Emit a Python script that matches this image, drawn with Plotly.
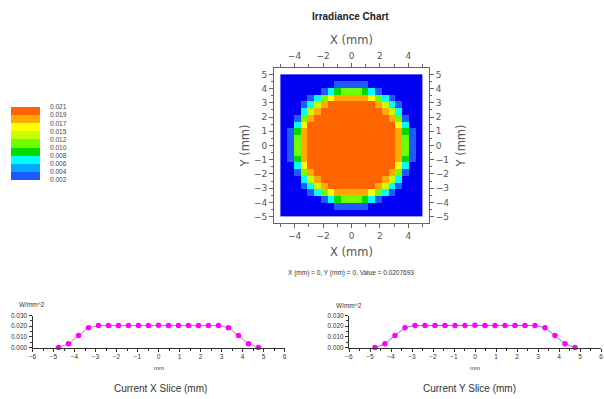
import plotly.graph_objects as go

# ---------------- data ----------------
CELL_CENTERS = [-4.762, -4.286, -3.810, -3.333, -2.857, -2.381, -1.905, -1.429, -0.952, -0.476, 0.0,
                0.476, 0.952, 1.429, 1.905, 2.381, 2.857, 3.333, 3.810, 4.286, 4.762]

# representative irradiance (W/mm^2) of each colour level
LEVEL_VALUES = [0.0005, 0.0031, 0.0052, 0.0073, 0.0094, 0.0114, 0.0135, 0.0156, 0.0177, 0.0207]
LEVEL_COLORS = ["#0000F5", "#1E5AFF", "#00A8FF", "#00FFFF", "#00DC00",
                "#70FF00", "#C8FF00", "#FFFF00", "#FFAA00", "#FF6400"]
LEGEND_LABELS = ["0.002", "0.004", "0.006", "0.008", "0.010", "0.012",
                 "0.015", "0.017", "0.019", "0.021"]

# colour level of every map cell (row 0 = Y -4.762 ... row 20 = Y +4.762)
GRID_LEVELS = [
    "000000000000000000000",
    "000000001111100000000",
    "000000134555431000000",
    "000013578888875310000",
    "000136899999998631000",
    "000368999999999863000",
    "001589999999999985100",
    "003799999999999997300",
    "014899999999999998410",
    "015899999999999998510",
    "015899999999999998510",
    "015899999999999998510",
    "014899999999999998410",
    "003799999999999997300",
    "001589999999999985100",
    "000368999999999863000",
    "000136899999998631000",
    "000013578888875310000",
    "000000134555431000000",
    "000000001111100000000",
    "000000000000000000000",
]

SLICE_X = CELL_CENTERS
X_SLICE_VALUES = [0.0, 0.0035, 0.0113, 0.0186, 0.0206, 0.0207, 0.0207, 0.0207, 0.0207, 0.0207, 0.0208,
                  0.0207, 0.0207, 0.0207, 0.0207, 0.0207, 0.0206, 0.0186, 0.0113, 0.0035, 0.0]
Y_SLICE_VALUES = [0.0, 0.0035, 0.0113, 0.0186, 0.0206, 0.0207, 0.0207, 0.0207, 0.0207, 0.0207, 0.0208,
                  0.0207, 0.0207, 0.0207, 0.0207, 0.0207, 0.0206, 0.0186, 0.0113, 0.0035, 0.0]

W, H = 604, 399


def px(x):
    return x / W


def py(y):
    return 1 - y / H


z = [[LEVEL_VALUES[int(ch)] for ch in row] for row in GRID_LEVELS]
ZMAX = 0.0208
colorscale = []
for k, c in enumerate(LEVEL_COLORS):
    colorscale.append([k / 10, c])
    colorscale.append([(k + 1) / 10, c])

fig = go.Figure()

# main irradiance map
fig.add_trace(go.Heatmap(x=CELL_CENTERS, y=CELL_CENTERS, z=z, zmin=0, zmax=ZMAX,
                         colorscale=colorscale, showscale=False, xaxis="x", yaxis="y",
                         hoverinfo="skip"))
# invisible trace to carry the top / right mirror axes
fig.add_trace(go.Scatter(x=[-5, 5], y=[-5, 5], mode="markers", marker=dict(opacity=0),
                         xaxis="x2", yaxis="y2", showlegend=False, hoverinfo="skip"))

# legend bar
fig.add_trace(go.Heatmap(x=[0], y=[k + 0.5 for k in range(9)],
                         z=[[LEVEL_VALUES[k + 1]] for k in range(9)], zmin=0, zmax=ZMAX,
                         colorscale=colorscale, showscale=False, xaxis="x3", yaxis="y3",
                         hoverinfo="skip"))

# slices
fig.add_trace(go.Scatter(x=SLICE_X, y=X_SLICE_VALUES, mode="lines+markers",
                         line=dict(color="#C88080", width=1),
                         marker=dict(color="#FF00FF", size=5.5), cliponaxis=False,
                         xaxis="x4", yaxis="y4", showlegend=False))
fig.add_trace(go.Scatter(x=SLICE_X, y=Y_SLICE_VALUES, mode="lines+markers",
                         line=dict(color="#7878C8", width=1),
                         marker=dict(color="#FF00FF", size=5.5), cliponaxis=False,
                         xaxis="x5", yaxis="y5", showlegend=False))

AX_FONT = dict(family="DejaVu Sans", size=9, color="#555555")
TITLE_FONT = dict(family="DejaVu Sans", size=11.5, color="#555555")
SMALL = dict(family="Liberation Sans", size=6.5, color="#333333")

map_x = [px(274), px(429)]
map_y = [py(223), py(68)]
RNG = [-5.45, 5.45]

common_map = dict(range=RNG, showgrid=False, zeroline=False, showline=True, linecolor="#666666",
                  linewidth=1, ticks="outside", ticklen=4, tickcolor="#666666", tickfont=AX_FONT,
                  automargin=False)

fig.update_layout(
    width=W, height=H, margin=dict(l=0, r=0, t=0, b=0),
    paper_bgcolor="white", plot_bgcolor="white", showlegend=False,
    xaxis=dict(domain=map_x, anchor="y", side="bottom", dtick=2, tick0=0,
               minor=dict(dtick=1, ticklen=3, tickcolor="#666666", ticks="outside"),
               title=dict(text="X (mm)", font=TITLE_FONT, standoff=8), **common_map),
    yaxis=dict(domain=map_y, anchor="x", side="left", dtick=1, tick0=0,
               minor=dict(dtick=0.5, ticklen=2, tickcolor="#666666", ticks="outside"),
               title=dict(text="Y (mm)", font=TITLE_FONT, standoff=1), **common_map),
    xaxis2=dict(overlaying="x", anchor="y", side="top", dtick=2, tick0=0,
                minor=dict(dtick=1, ticklen=3, tickcolor="#666666", ticks="outside"),
                title=dict(text="X (mm)", font=TITLE_FONT, standoff=4), **common_map),
    yaxis2=dict(overlaying="y", anchor="x", side="right", dtick=1, tick0=0,
                minor=dict(dtick=0.5, ticklen=2, tickcolor="#666666", ticks="outside"),
                title=dict(text="Y (mm)", font=TITLE_FONT, standoff=8), **common_map),
    xaxis3=dict(domain=[px(11), px(40)], anchor="y3", visible=False, range=[-0.5, 0.5]),
    yaxis3=dict(domain=[py(180), py(107)], anchor="x3", side="right", range=[0, 9],
                tickvals=list(range(10)), ticktext=LEGEND_LABELS, ticks="",
                showline=False, showgrid=False, zeroline=False, ticklabelstandoff=9,
                tickfont=dict(family="Liberation Sans", size=6.5, color="#444444"),
                automargin=False),
)

slice_common_x = dict(range=[-6, 6], dtick=1, tick0=0, showgrid=False, zeroline=False,
                      showline=True, linecolor="#333333", linewidth=1, ticks="outside",
                      ticklen=3, tickcolor="#333333",
                      minor=dict(dtick=0.5, ticklen=2, tickcolor="#333333", ticks="outside"),
                      tickfont=SMALL, automargin=False)
slice_common_y = dict(range=[0, 0.030], tickvals=[0, 0.01, 0.02, 0.03], tickformat=".3f",
                      showgrid=False, zeroline=False, showline=True, linecolor="#333333",
                      linewidth=1, ticks="outside", ticklen=3, tickcolor="#333333",
                      minor=dict(dtick=0.005, ticklen=2, tickcolor="#333333", ticks="outside"),
                      tickfont=SMALL, automargin=False)

fig.update_layout(
    xaxis4=dict(domain=[px(32.5), px(284.5)], anchor="y4", **slice_common_x),
    yaxis4=dict(domain=[py(347.5), py(315.5)], anchor="x4", **slice_common_y),
    xaxis5=dict(domain=[px(349), px(601)], anchor="y5", **slice_common_x),
    yaxis5=dict(domain=[py(347.5), py(315.5)], anchor="x5", **slice_common_y),
)

annos = [
    dict(text="<b>Irradiance Chart</b>", x=px(350), y=py(16),
         font=dict(family="Liberation Sans", size=10, color="#222222")),
    dict(text="X (mm) = 0, Y (mm) = 0, Value = 0.0207693", x=px(351), y=py(273),
         font=dict(family="Liberation Sans", size=6.5, color="#333333")),
    dict(text="W/mm^2", x=px(32), y=py(304), font=SMALL),
    dict(text="W/mm^2", x=px(349), y=py(305), font=SMALL),
    dict(text="mm", x=px(159), y=py(368), font=dict(family="Liberation Sans", size=6, color="#333333")),
    dict(text="mm", x=px(475), y=py(368), font=dict(family="Liberation Sans", size=6, color="#333333")),
    dict(text="Current X Slice (mm)", x=px(160), y=py(388),
         font=dict(family="Liberation Sans", size=10, color="#333333")),
    dict(text="Current Y Slice (mm)", x=px(469), y=py(388),
         font=dict(family="Liberation Sans", size=10, color="#333333")),
]
for a in annos:
    fig.add_annotation(xref="paper", yref="paper", showarrow=False, xanchor="center",
                       yanchor="middle", **a)

fig.write_html("out.html", config={"displayModeBar": False},
               post_script="document.body.style.margin='0';document.body.style.padding='0';")
